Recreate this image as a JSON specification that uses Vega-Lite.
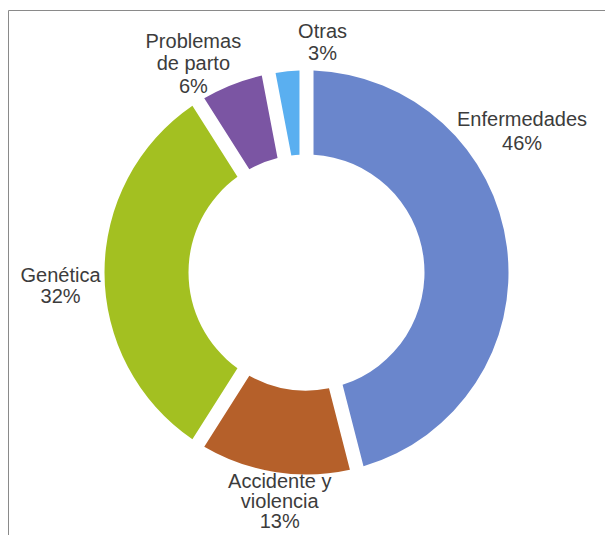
{
  "$schema": "https://vega.github.io/schema/vega-lite/v6.json",
  "width": 597,
  "height": 525,
  "autosize": {"type": "none"},
  "padding": {"left": 8, "top": 10, "right": 0, "bottom": 0},
  "background": "white",
  "view": {"stroke": "#8a8a8a", "strokeWidth": 1},
  "data": {
    "values": [
      {"i": 1, "cat": "Enfermedades", "value": 46, "label": "Enfermedades\n46%"},
      {"i": 2, "cat": "Accidente y violencia", "value": 13, "label": "Accidente y\nviolencia\n13%"},
      {"i": 3, "cat": "Genética", "value": 32, "label": "Genética\n32%"},
      {"i": 4, "cat": "Problemas de parto", "value": 6, "label": "Problemas\nde parto\n6%"},
      {"i": 5, "cat": "Otras", "value": 3, "label": "Otras\n3%"}
    ]
  },
  "encoding": {
    "theta": {"field": "value", "type": "quantitative", "stack": true},
    "order": {"field": "i", "type": "quantitative"}
  },
  "layer": [
    {
      "mark": {"type": "arc", "innerRadius": 118, "outerRadius": 202, "padAngle": 0.06},
      "encoding": {
        "color": {
          "field": "cat",
          "type": "nominal",
          "scale": {
            "domain": ["Enfermedades", "Accidente y violencia", "Genética", "Problemas de parto", "Otras"],
            "range": ["#6a86cc", "#b5602a", "#a3c021", "#7b55a3", "#5aaff0"]
          },
          "legend": null
        }
      }
    },
    {
      "mark": {"type": "text", "radius": 264, "thetaOffset": -0.49, "fontSize": 20, "font": "Liberation Sans", "color": "#3c3c3c", "lineBreak": "\n", "lineHeight": 23.5, "align": "center", "baseline": "middle"},
      "encoding": {
        "detail": {"field": "cat"},
        "text": {"condition": {"test": "datum.i == 1", "field": "label"}, "value": ""}
      }
    },
    {
      "mark": {"type": "text", "radius": 211, "thetaOffset": -0.03, "fontSize": 20, "font": "Liberation Sans", "color": "#3c3c3c", "lineBreak": "\n", "lineHeight": 20, "align": "center", "baseline": "middle"},
      "encoding": {
        "detail": {"field": "cat"},
        "text": {"condition": {"test": "datum.i == 2", "field": "label"}, "value": ""}
      }
    },
    {
      "mark": {"type": "text", "radius": 246, "thetaOffset": -0.016, "fontSize": 20, "font": "Liberation Sans", "color": "#3c3c3c", "lineBreak": "\n", "lineHeight": 21, "align": "center", "baseline": "middle"},
      "encoding": {
        "detail": {"field": "cat"},
        "text": {"condition": {"test": "datum.i == 3", "field": "label"}, "value": ""}
      }
    },
    {
      "mark": {"type": "text", "radius": 257, "thetaOffset": -0.079, "fontSize": 20, "font": "Liberation Sans", "color": "#3c3c3c", "lineBreak": "\n", "lineHeight": 22.5, "align": "center", "baseline": "middle"},
      "encoding": {
        "detail": {"field": "cat"},
        "text": {"condition": {"test": "datum.i == 4", "field": "label"}, "value": ""}
      }
    },
    {
      "mark": {"type": "text", "radius": 241, "thetaOffset": 0.161, "fontSize": 20, "font": "Liberation Sans", "color": "#3c3c3c", "lineBreak": "\n", "lineHeight": 22, "align": "center", "baseline": "middle"},
      "encoding": {
        "detail": {"field": "cat"},
        "text": {"condition": {"test": "datum.i == 5", "field": "label"}, "value": ""}
      }
    }
  ]
}
